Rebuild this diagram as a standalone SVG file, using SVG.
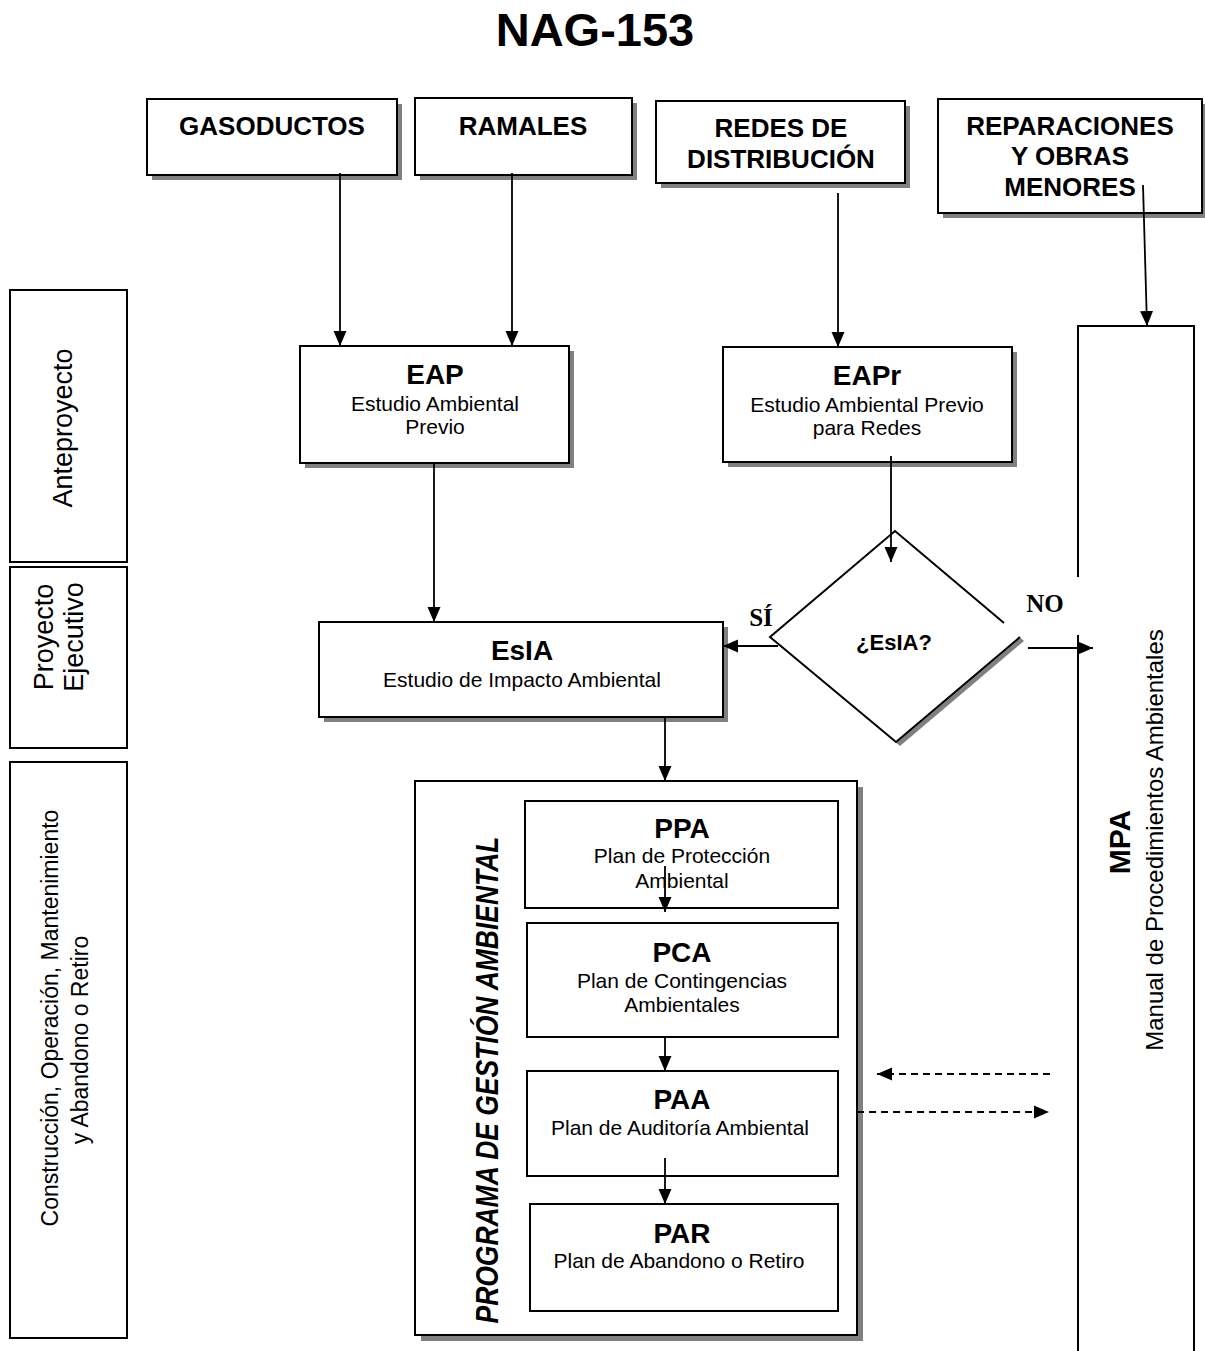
<svg xmlns="http://www.w3.org/2000/svg" width="1205" height="1351" viewBox="0 0 1205 1351">
<style>
.box{fill:#fff;stroke:#000;stroke-width:2}
.sh{fill:#808080}
.t{font-family:"Liberation Sans",Arial,sans-serif;fill:#000;text-anchor:middle}
.b{font-weight:bold}
.s{font-family:"Liberation Serif","Times New Roman",serif;font-weight:bold;fill:#000;text-anchor:middle}
.c{stroke:#000;stroke-width:1.8;fill:none}
.d{stroke-dasharray:7 5}
</style>
<defs>
<marker id="a" markerUnits="userSpaceOnUse" markerWidth="16" markerHeight="14" refX="15" refY="7" orient="auto"><path d="M0,0.5 L15,7 L0,13.5 z" fill="#000"/></marker>
</defs>
<rect width="1205" height="1351" fill="#fff"/>
<text id="title" x="595" y="46" class="t b" font-size="47">NAG-153</text>

<g id="gasoductos"><rect class="sh" x="152" y="104" width="250" height="76"/><rect class="box" x="147" y="99" width="250" height="76"/><text class="t b" x="272" y="135" font-size="26">GASODUCTOS</text></g>
<g id="ramales"><rect class="sh" x="420" y="103" width="217" height="77"/><rect class="box" x="415" y="98" width="217" height="77"/><text class="t b" x="523" y="135" font-size="26">RAMALES</text></g>
<g id="redes"><rect class="sh" x="661" y="106" width="249" height="82"/><rect class="box" x="656" y="101" width="249" height="82"/><text class="t b" x="781" y="137" font-size="26">REDES DE</text><text class="t b" x="781" y="168" font-size="26">DISTRIBUCIÓN</text></g>
<g id="reparaciones"><rect class="sh" x="943" y="104" width="264" height="114"/><rect class="box" x="938" y="99" width="264" height="114"/><text class="t b" x="1070" y="135" font-size="26">REPARACIONES</text><text class="t b" x="1070" y="165" font-size="26">Y OBRAS</text><text class="t b" x="1070" y="196" font-size="26">MENORES</text></g>

<g id="anteproyecto"><rect class="box" x="10" y="290" width="117" height="272"/><text class="t" font-size="27" transform="translate(72,428) rotate(-90)">Anteproyecto</text></g>
<g id="proyecto-ejecutivo"><rect class="box" x="10" y="567" width="117" height="181"/><text class="t" font-size="27" transform="translate(53,637) rotate(-90)">Proyecto</text><text class="t" font-size="27" transform="translate(83,637) rotate(-90)">Ejecutivo</text></g>
<g id="construccion"><rect class="box" x="10" y="762" width="117" height="576"/><text class="t" font-size="23" transform="translate(58,1018) rotate(-90)">Construcción, Operación, Mantenimiento</text><text class="t" font-size="23" transform="translate(88,1040) rotate(-90)">y Abandono o Retiro</text></g>

<g id="eap"><rect class="sh" x="305" y="351" width="269" height="117"/><rect class="box" x="300" y="346" width="269" height="117"/><text class="t b" x="435" y="384" font-size="28">EAP</text><text class="t" x="435" y="411" font-size="21">Estudio Ambiental</text><text class="t" x="435" y="434" font-size="21">Previo</text></g>
<g id="eapr"><rect class="sh" x="728" y="352" width="289" height="115"/><rect class="box" x="723" y="347" width="289" height="115"/><text class="t b" x="867" y="385" font-size="28">EAPr</text><text class="t" x="867" y="412" font-size="21">Estudio Ambiental Previo</text><text class="t" x="867" y="435" font-size="21">para Redes</text></g>

<g id="decision"><polygon class="sh" points="899,535 1024,641 900,746 774,641"/><polygon points="895,531 1020,637 896,742 770,637" fill="#fff"/><path d="M1004,623 L895,531 L770,637 L896,742 L1020,637" fill="none" stroke="#000" stroke-width="2"/><text class="t b" x="894" y="650" font-size="22">¿EsIA?</text></g>

<g id="esia"><rect class="sh" x="324" y="627" width="404" height="95"/><rect class="box" x="319" y="622" width="404" height="95"/><text class="t b" x="522" y="660" font-size="28">EsIA</text><text class="t" x="522" y="687" font-size="21">Estudio de Impacto Ambiental</text></g>

<g id="mpa"><rect x="1078" y="326" width="116" height="1040" fill="#fff"/><path d="M1078,577 V326 H1194 V1360 M1078,635 V1360" fill="none" stroke="#000" stroke-width="2"/><text class="t b" font-size="30" transform="translate(1130,842) rotate(-90)">MPA</text><text class="t" font-size="24" transform="translate(1163,840) rotate(-90)">Manual de Procedimientos Ambientales</text></g>

<g id="pga"><rect class="sh" x="421" y="787" width="442" height="554"/><rect class="box" x="415" y="781" width="442" height="554"/><text class="t b" font-size="31" font-style="italic" textLength="487" lengthAdjust="spacingAndGlyphs" transform="translate(498,1080) rotate(-90)">PROGRAMA DE GESTIÓN AMBIENTAL</text></g>
<g id="ppa"><rect class="box" x="525" y="801" width="313" height="107"/><text class="t b" x="682" y="838" font-size="28">PPA</text><text class="t" x="682" y="863" font-size="21">Plan de Protección</text><text class="t" x="682" y="888" font-size="21">Ambiental</text></g>
<g id="pca"><rect class="box" x="527" y="923" width="311" height="114"/><text class="t b" x="682" y="962" font-size="28">PCA</text><text class="t" x="682" y="988" font-size="21">Plan de Contingencias</text><text class="t" x="682" y="1012" font-size="21">Ambientales</text></g>
<g id="paa"><rect class="box" x="527" y="1071" width="311" height="105"/><text class="t b" x="682" y="1109" font-size="28">PAA</text><text class="t" x="680" y="1135" font-size="21">Plan de Auditoría Ambiental</text></g>
<g id="par"><rect class="box" x="530" y="1204" width="308" height="107"/><text class="t b" x="682" y="1243" font-size="28">PAR</text><text class="t" x="679" y="1268" font-size="21">Plan de Abandono o Retiro</text></g>

<g id="connectors">
<line class="c" x1="340" y1="173" x2="340" y2="346" marker-end="url(#a)"/>
<line class="c" x1="512" y1="173" x2="512" y2="346" marker-end="url(#a)"/>
<line class="c" x1="838" y1="193" x2="838" y2="347" marker-end="url(#a)"/>
<line class="c" x1="1143" y1="185" x2="1147" y2="326" marker-end="url(#a)"/>
<line class="c" x1="434" y1="463" x2="434" y2="622" marker-end="url(#a)"/>
<line class="c" x1="891" y1="456" x2="891" y2="562" marker-end="url(#a)"/>
<line class="c" x1="778" y1="646" x2="723" y2="646" marker-end="url(#a)"/>
<line class="c" x1="1028" y1="648" x2="1093" y2="648" marker-end="url(#a)"/>
<line class="c" x1="665" y1="717" x2="665" y2="781" marker-end="url(#a)"/>
<line class="c" x1="665" y1="866" x2="665" y2="912" marker-end="url(#a)"/>
<line class="c" x1="665" y1="1037" x2="665" y2="1071" marker-end="url(#a)"/>
<line class="c" x1="665" y1="1158" x2="665" y2="1204" marker-end="url(#a)"/>
<line class="c d" x1="1050" y1="1074" x2="877" y2="1074" marker-end="url(#a)"/>
<line class="c d" x1="857" y1="1112" x2="1049" y2="1112" marker-end="url(#a)"/>
<text class="s" x="761" y="626" font-size="25">SÍ</text>
<text class="s" x="1045" y="612" font-size="25">NO</text>
</g>
</svg>
